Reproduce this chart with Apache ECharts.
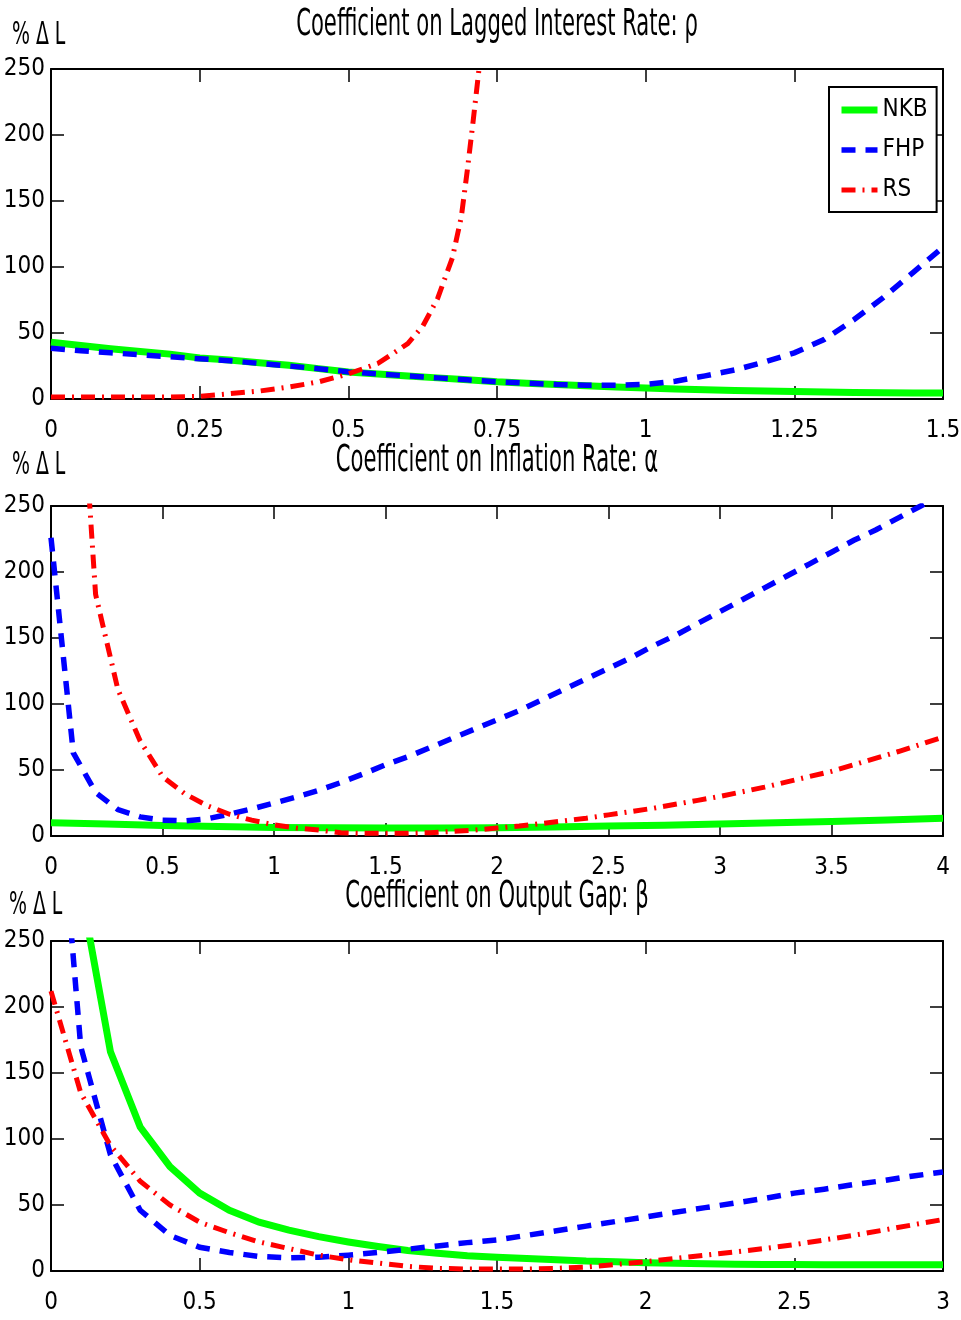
<!DOCTYPE html>
<html>
<head>
<meta charset="utf-8">
<script src="https://cdn.jsdelivr.net/npm/echarts@6.0.0/dist/echarts.min.js"></script>
<style>
  html, body { margin: 0; padding: 0; background: #fff; }
  #chart { width: 961px; height: 1320px; }
</style>
</head>
<body>
<div id="chart"></div>
<script>
// panel 1: coefficient on lagged interest rate (rho)
const rhoX = [0, 0.05, 0.1, 0.15, 0.2, 0.25, 0.3, 0.35, 0.4, 0.45, 0.5, 0.55, 0.6, 0.65, 0.7, 0.75,
  0.8, 0.85, 0.9, 0.95, 1.0, 1.05, 1.1, 1.15, 1.2, 1.25, 1.3, 1.35, 1.4, 1.45, 1.5]
const nkbRho = [43, 40.5, 38, 36, 34, 31, 29.5, 27.5, 25.5, 23, 20.5, 19, 17.5, 16, 14.5, 13,
  12, 11, 10, 9, 8.3, 7.6, 7, 6.5, 6, 5.6, 5.3, 5, 4.8, 4.6, 4.5]
const fhpRho = [38.5, 36.5, 35, 33.5, 32, 30.5, 29, 27, 25, 23, 20.5, 19, 17.5, 16, 14.5, 13,
  12, 11, 10.5, 10.5, 11, 13.5, 17.5, 22, 28, 35, 45, 60, 77, 96, 115]
const rsRhoX = [0, 0.1, 0.2, 0.25, 0.3, 0.35, 0.4, 0.45, 0.5, 0.55, 0.6, 0.625, 0.65, 0.675, 0.69, 0.7, 0.71, 0.72, 0.73]
const rsRho = [1.5, 1.5, 1.5, 2, 4, 6, 9, 13, 19, 27, 42, 55, 76, 107, 138, 173, 211, 251, 300]

// panel 2: coefficient on inflation rate (alpha)
const alphaX = [0, 0.1, 0.2, 0.3, 0.4, 0.5, 0.6, 0.7, 0.8, 0.9, 1.0, 1.1, 1.2, 1.3, 1.4, 1.5, 1.6, 1.7, 1.8, 1.9,
  2.0, 2.1, 2.2, 2.3, 2.4, 2.5, 2.6, 2.7, 2.8, 2.9, 3.0, 3.1, 3.2, 3.3, 3.4, 3.5, 3.6, 3.7, 3.8, 3.9, 4.0]
const fhpAlpha = [226, 63, 33, 20, 14.5, 12, 11.5, 13, 16.5, 20.5, 25, 29.5, 34.5, 40.5, 47, 54, 60, 67, 74, 81,
  88, 95, 103, 111, 119, 127, 135, 144, 152, 161, 170, 179, 188, 197, 206, 215, 224, 232, 241, 250, 259]
const rsAlpha = [null, 440, 183, 111, 72, 45, 32, 23, 16.5, 12, 8.5, 6, 4.5, 2.5, 2, 2, 2, 2.5, 3.5, 4.5,
  6, 7.5, 9.5, 11.5, 13.5, 16, 18.5, 21, 24, 27, 30, 33.5, 37, 41, 45, 49, 54, 59, 64, 69.5, 75]
const nkbAlphaX = [0, 0.25, 0.5, 0.75, 1, 1.25, 1.5, 1.75, 2, 2.25, 2.5, 2.75, 3, 3.25, 3.5, 3.75, 4]
const nkbAlpha = [10, 9, 8, 7.2, 6.5, 6.2, 6, 6, 6.3, 6.8, 7.5, 8.2, 9, 10, 11, 12.2, 13.5]

// panel 3: coefficient on output gap (beta)
const betaX = [0, 0.1, 0.2, 0.3, 0.4, 0.5, 0.6, 0.7, 0.8, 0.9, 1.0, 1.1, 1.2, 1.3, 1.4, 1.5,
  1.6, 1.7, 1.8, 1.9, 2.0, 2.1, 2.2, 2.3, 2.4, 2.5, 2.6, 2.7, 2.8, 2.9, 3.0]
const nkbBeta = [null, 290, 166, 109, 79, 59, 46, 37, 31, 26, 22, 18.5, 15.5, 13.5, 11.5, 10.5,
  9.5, 8.5, 7.5, 7, 6.2, 5.8, 5.4, 5.2, 5, 4.9, 4.8, 4.8, 4.8, 4.8, 4.8]
const fhpBeta = [440, 170, 88, 46, 27, 18, 14, 11, 10, 10.5, 12, 14, 16.5, 19, 21.5, 23.5,
  27, 30.5, 34, 37.5, 41, 44.5, 48, 51.5, 55, 59, 62, 65.5, 68.5, 72, 75]
const rsBeta = [212, 135, 95, 68, 50, 37, 29, 22, 17, 12, 8.5, 6, 3.5, 2, 1.5, 1.5,
  1.5, 2, 3, 5, 7, 9.5, 12, 14.5, 17, 20, 23.5, 27, 31, 35, 39]

const titles = [
  "Coefficient on Lagged Interest Rate: ρ",
  "Coefficient on Inflation Rate: α",
  "Coefficient on Output Gap: β",
]
const unitLabel = "% Δ L"
const seriesNames = ["NKB", "FHP", "RS"]

const FONT = "'DejaVu Sans Condensed', 'Liberation Sans Narrow', sans-serif"

const panels = [
  { top: 69, xMax: 1.5, xStep: 0.25, titleY: 25, unitX: 12, unitY: 36 },
  { top: 506, xMax: 4, xStep: 0.5, titleY: 461, unitX: 12, unitY: 466 },
  { top: 941, xMax: 3, xStep: 0.5, titleY: 897, unitX: 9, unitY: 906 },
]

const lineStyles = {
  NKB: { color: "#00ff00", width: 7, type: "solid" },
  FHP: { color: "#0000ff", width: 5.5, type: [14, 10] },
  RS: { color: "#ff0000", width: 5, type: [14, 7, 2, 7] },
}

const pairs = (xs, ys) => xs.map((x, i) => [x, ys[i]])

const grids = []
const xAxes = []
const yAxes = []
const graphics = []

panels.forEach((p, i) => {
  grids.push({ left: 51, top: p.top, width: 892, height: 330, outerBoundsMode: "none" })
  const tick = { show: true, inside: true, length: 13, lineStyle: { color: "#000", width: 1.5 } }
  const line = { show: true, onZero: false, lineStyle: { color: "#000", width: 2 } }
  xAxes.push({
    type: "value", gridIndex: i, position: "bottom", min: 0, max: p.xMax, interval: p.xStep,
    axisLine: line, axisTick: tick, splitLine: { show: false },
    axisLabel: { color: "#000", fontFamily: FONT, fontSize: 24, margin: 20, hideOverlap: false },
  })
  xAxes.push({
    type: "value", gridIndex: i, position: "top", min: 0, max: p.xMax, interval: p.xStep,
    axisLine: line, axisTick: tick, splitLine: { show: false }, axisLabel: { show: false },
  })
  yAxes.push({
    type: "value", gridIndex: i, position: "left", min: 0, max: 250, interval: 50,
    axisLine: line, axisTick: tick, splitLine: { show: false },
    axisLabel: { color: "#000", fontFamily: FONT, fontSize: 24, margin: 6, hideOverlap: false },
  })
  yAxes.push({
    type: "value", gridIndex: i, position: "right", min: 0, max: 250, interval: 50,
    axisLine: line, axisTick: tick, splitLine: { show: false }, axisLabel: { show: false },
  })
  graphics.push({
    type: "text", x: 497, y: p.titleY, scaleY: 1.6,
    style: { text: titles[i], fontFamily: FONT, fontSize: 23.5, fill: "#000", align: "center", verticalAlign: "middle" },
  })
  graphics.push({
    type: "text", x: p.unitX, y: p.unitY, scaleY: 1.5,
    style: { text: unitLabel, fontFamily: FONT, fontSize: 21, fill: "#000", align: "left", verticalAlign: "middle" },
  })
})

function makeSeries(name, panel, data) {
  return {
    name, type: "line", xAxisIndex: panel * 2, yAxisIndex: panel * 2,
    data, symbol: "none", clip: true, silent: true, animation: false,
    lineStyle: { ...lineStyles[name], cap: "butt", join: "miter" },
    itemStyle: { color: lineStyles[name].color },
  }
}

const series = [
  makeSeries("NKB", 0, pairs(rhoX, nkbRho)),
  makeSeries("FHP", 0, pairs(rhoX, fhpRho)),
  makeSeries("RS", 0, pairs(rsRhoX, rsRho)),
  makeSeries("NKB", 1, pairs(nkbAlphaX, nkbAlpha)),
  makeSeries("FHP", 1, pairs(alphaX, fhpAlpha)),
  makeSeries("RS", 1, pairs(alphaX, rsAlpha)),
  makeSeries("NKB", 2, pairs(betaX, nkbBeta)),
  makeSeries("FHP", 2, pairs(betaX, fhpBeta)),
  makeSeries("RS", 2, pairs(betaX, rsBeta)),
]

const chart = echarts.init(document.getElementById("chart"), null, { renderer: "canvas" })

chart.setOption({
  backgroundColor: "#fff",
  animation: false,
  grid: grids,
  xAxis: xAxes,
  yAxis: yAxes,
  legend: {
    data: seriesNames.map((n) => ({
      name: n,
      itemStyle: { opacity: 0 },
      lineStyle: { width: lineStyles[n].width, type: lineStyles[n].type, color: lineStyles[n].color },
    })),
    orient: "vertical",
    left: 829, top: 87,
    padding: [8, 9, 7, 9],
    itemWidth: 36, itemHeight: 14, itemGap: 10,
    backgroundColor: "#fff", borderColor: "#000", borderWidth: 2, borderRadius: 0,
    textStyle: { color: "#000", fontFamily: FONT, fontSize: 24, lineHeight: 30 },
    selectedMode: false,
  },
  graphic: graphics,
  series,
})
</script>
</body>
</html>
